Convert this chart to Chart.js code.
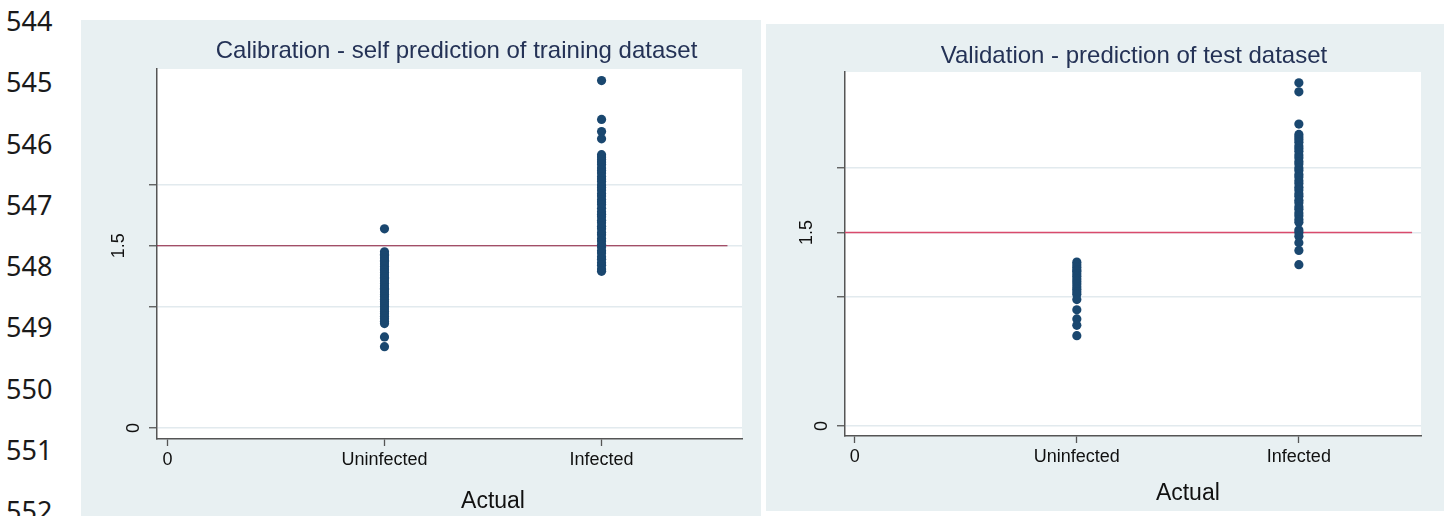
<!DOCTYPE html>
<html lang="en">
<head>
<meta charset="UTF-8">
<title>Calibration / Validation</title>
<script src="https://cdn.jsdelivr.net/npm/chart.js@4.4.0/dist/chart.umd.min.js"></script>
<style>
  html, body { margin: 0; padding: 0; background: #fff; }
  .page { position: relative; width: 1444px; height: 516px; overflow: hidden; }
  .linenos { position: absolute; left: 6px; top: 0; font-family: "Noto Sans", sans-serif; font-size: 27px; color: #1a1a1a; }
  .linenos div { position: absolute; left: 0; height: 30px; line-height: 30px; }
  canvas { position: absolute; }
  #cal { left: 81px; top: 20px; }
  #val { left: 766px; top: 24px; }
</style>
</head>
<body>
<div class="page">
  <div class="linenos" id="linenos"></div>
  <canvas id="cal" width="680" height="496"></canvas>
  <canvas id="val" width="678" height="487"></canvas>
</div>
<script>
// document line numbers down the left margin
const lineNumbers = [544, 545, 546, 547, 548, 549, 550, 551, 552];

// x categories (0 / 1 / 2 on the axis)
const categories = ['0', 'Uninfected', 'Infected'];
const xTickValues = [0, 1, 2];
// y ticks: only 0 and 1.5 carry a label
const yTickValues = [0, 1, 1.5, 2];
const yTickLabels = { 0: '0', 1.5: '1.5' };
const cutoff = 1.5;

// training dataset (self prediction)
const calUninfected = [1.64, 1.45, 1.43, 1.42, 1.40, 1.38, 1.37, 1.35, 1.33, 1.31, 1.30, 1.28, 1.26, 1.24,
  1.23, 1.21, 1.19, 1.17, 1.15, 1.14, 1.12, 1.10, 1.08, 1.06, 1.04, 1.02, 1.00, 0.98, 0.96, 0.94, 0.92,
  0.90, 0.88, 0.86, 0.75, 0.67];
const calInfected = [2.86, 2.54, 2.44, 2.38, 2.25, 2.23, 2.21, 2.19, 2.17, 2.14, 2.12, 2.10, 2.07, 2.05,
  2.03, 2.00, 1.98, 1.96, 1.93, 1.91, 1.88, 1.86, 1.84, 1.81, 1.78, 1.76, 1.74, 1.71, 1.69, 1.66, 1.64,
  1.61, 1.59, 1.56, 1.54, 1.51, 1.49, 1.46, 1.44, 1.41, 1.39, 1.36, 1.34, 1.31, 1.29];

// test dataset
const valUninfected = [1.27, 1.25, 1.23, 1.21, 1.20, 1.18, 1.16, 1.14, 1.12, 1.10, 1.08, 1.06, 1.04, 1.02,
  0.98, 0.90, 0.83, 0.78, 0.70];
const valInfected = [2.66, 2.59, 2.34, 2.26, 2.24, 2.22, 2.20, 2.17, 2.15, 2.13, 2.10, 2.08, 2.05, 2.03,
  2.00, 1.98, 1.95, 1.93, 1.90, 1.88, 1.85, 1.83, 1.80, 1.78, 1.75, 1.73, 1.70, 1.68, 1.65, 1.63, 1.60,
  1.58, 1.52, 1.50, 1.47, 1.42, 1.36, 1.25];

// line numbers
var ln = document.getElementById('linenos');
lineNumbers.forEach(function (n, i) {
  var d = document.createElement('div');
  d.textContent = n;
  d.style.top = (6 + i * 61.25) + 'px';
  ln.appendChild(d);
});

const BG = '#e8f0f2';
const FONT = '"Liberation Sans", Arial, sans-serif';

const stataPanel = {
  id: 'stataPanel',
  beforeDraw(chart) {
    const ctx = chart.ctx, a = chart.chartArea;
    ctx.save();
    ctx.fillStyle = BG;
    ctx.fillRect(0, 0, chart.width, chart.height);
    ctx.fillStyle = '#fff';
    ctx.fillRect(a.left, a.top, a.right - a.left, a.bottom - a.top);
    ctx.restore();
  },
  afterDraw(chart, args, opts) {
    const ctx = chart.ctx, a = chart.chartArea;
    const xs = chart.scales.x, ys = chart.scales.y;
    ctx.save();
    // title
    ctx.fillStyle = '#243256';
    ctx.font = '24px ' + FONT;
    ctx.textAlign = 'center';
    ctx.textBaseline = 'middle';
    ctx.fillText(opts.title, (a.left + a.right) / 2 + opts.titleShift, opts.titleY);
    // x title
    ctx.fillStyle = '#111';
    ctx.font = '23px ' + FONT;
    ctx.fillText('Actual', xs.getPixelForValue(1.5), opts.xTitleY);
    // rotated y labels
    ctx.font = '18px ' + FONT;
    Object.keys(yTickLabels).forEach(function (k) {
      const txt = yTickLabels[k];
      const w = ctx.measureText(txt).width;
      ctx.save();
      ctx.translate(a.left - 14 - w, ys.getPixelForValue(Number(k)));
      ctx.rotate(-Math.PI / 2);
      ctx.fillText(txt, 0, 1);
      ctx.restore();
    });
    ctx.restore();
  }
};

function makePanel(id, p) {
  const pts = p.uninf.map(v => ({ x: 1, y: v })).concat(p.inf.map(v => ({ x: 2, y: v })));
  return new Chart(document.getElementById(id), {
    type: 'scatter',
    data: {
      datasets: [{
        data: pts,
        backgroundColor: '#1a476f',
        borderColor: '#1a476f',
        borderWidth: 0,
        pointRadius: 4.6,
        pointHoverRadius: 4.6
      }, {
        type: 'line',
        data: [{ x: p.xMin, y: cutoff }, { x: p.lineEnd, y: cutoff }],
        borderColor: p.lineColor,
        borderWidth: p.lineWidth,
        pointRadius: 0,
        fill: false
      }]
    },
    options: {
      responsive: false,
      animation: false,
      events: [],
      layout: { padding: { top: p.padTop, right: p.padRight, bottom: 0, left: 0 } },
      plugins: {
        legend: { display: false },
        tooltip: { enabled: false },
        stataPanel: { title: p.title, titleY: p.titleY, titleShift: p.titleShift, xTitleY: p.xTitleY }
      },
      scales: {
        x: {
          type: 'linear',
          min: p.xMin, max: p.xMax,
          afterBuildTicks: s => { s.ticks = xTickValues.map(v => ({ value: v })); },
          afterFit: s => { s.height = p.xHeight; },
          ticks: {
            callback: v => categories[v],
            font: { family: FONT, size: 18 },
            color: '#111',
            padding: 3,
            maxRotation: 0
          },
          grid: { drawOnChartArea: false, tickColor: '#555', tickLength: 7, tickWidth: 1.3 },
          border: { color: '#555', width: 1.5 }
        },
        y: {
          min: p.yMin, max: p.yMax,
          afterBuildTicks: s => { s.ticks = yTickValues.map(v => ({ value: v })); },
          afterFit: s => { s.width = p.yWidth; },
          ticks: { display: false },
          grid: { color: '#e2eaee', lineWidth: 1.5, tickColor: '#555', tickLength: 8, tickWidth: 1.3 },
          border: { color: '#555', width: 1.5 }
        }
      }
    },
    plugins: [stataPanel]
  });
}

makePanel('cal', {
  title: 'Calibration - self prediction of training dataset',
  uninf: calUninfected, inf: calInfected,
  xMin: -0.048, xMax: 2.647, yMin: -0.09, yMax: 2.955, lineEnd: 2.58,
  lineColor: '#8e1a3a', lineWidth: 1.1,
  padTop: 49, padRight: 19, yWidth: 76, xHeight: 77,
  titleY: 31, titleShift: 7, xTitleY: 482
});

makePanel('val', {
  title: 'Validation - prediction of test dataset',
  uninf: valUninfected, inf: valInfected,
  xMin: -0.044, xMax: 2.55, yMin: -0.078, yMax: 2.744, lineEnd: 2.51,
  lineColor: '#d94a6c', lineWidth: 1.6,
  padTop: 48, padRight: 23, yWidth: 79, xHeight: 75,
  titleY: 32, titleShift: 1, xTitleY: 470
});
</script>
</body>
</html>
